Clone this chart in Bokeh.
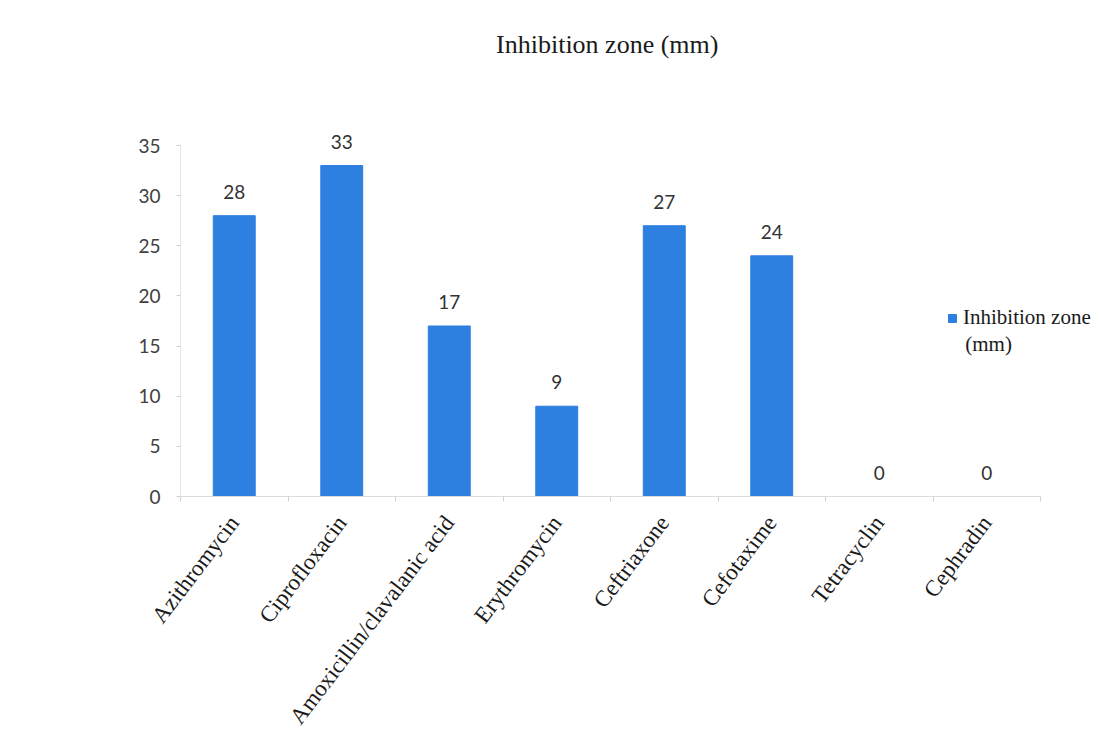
from bokeh.plotting import figure
from bokeh.models import (ColumnDataSource, Range1d, FixedTicker, LabelSet, Label,
                          Legend, LegendItem)
from bokeh.core.properties import value
from bokeh.embed import file_html
from bokeh.resources import INLINE

# Antibiotics tested and the measured inhibition zone diameters (mm)
antibiotics = ["Azithromycin", "Ciprofloxacin", "Amoxicillin/clavalanic acid",
               "Erythromycin", "Ceftriaxone", "Cefotaxime", "Tetracyclin", "Cephradin"]
zone_mm = [28, 33, 17, 9, 27, 24, 0, 0]
y_ticks = [0, 5, 10, 15, 20, 25, 30, 35]

BAR = "#2D7FE0"
SERIF = "Liberation Serif"
SANS = "Lato"

n = len(antibiotics)
centers = [i + 0.5 for i in range(n)]
source = ColumnDataSource(dict(x=centers, zone=zone_mm,
                               label=[str(v) for v in zone_mm]))

# The frame covers nearly the whole canvas so that the title, value labels and
# legend can sit in it; the axes are bounded to the data extent (0..8, 0..35).
AXIS_MAX = 35
FRAME_W, FRAME_H = 922, 486
x_end = n * FRAME_W / 860
y_end = AXIS_MAX * FRAME_H / 351
p = figure(width=1102, height=749, output_backend="svg", toolbar_location=None,
           x_range=Range1d(0, x_end), y_range=Range1d(0, y_end),
           min_border_left=180, min_border_right=0,
           min_border_top=10, min_border_bottom=253,
           outline_line_color=None, background_fill_color="white",
           border_fill_color="white")

title = Label(x=n / 2, y=43.6, text="Inhibition  zone (mm)",
              text_align="center", text_baseline="bottom",
              text_font=SERIF, text_font_size="26px", text_color="#1a1a1a")
p.add_layout(title)

bars = p.vbar(x="x", top="zone", width=0.39, bottom=0, source=source,
              fill_color=BAR, line_color=BAR)

labels = LabelSet(x="x", y="zone", text="label", source=source,
                  text_align="center", text_baseline="alphabetic",
                  y_offset=17, text_font=value(SANS), text_font_size=value("19px"),
                  text_color="#333333")
p.add_layout(labels)

# x axis: names at the bar centres, small ticks at the category boundaries
xa = p.xaxis[0]
xa.bounds = (0, n)
xa.ticker = FixedTicker(ticks=centers, minor_ticks=list(range(n + 1)))
xa.major_label_overrides = {c: name for c, name in zip(centers, antibiotics)}
xa.major_label_orientation = 0.92
xa.major_tick_out = 0
xa.major_tick_in = 0
xa.minor_tick_out = 5
xa.minor_tick_in = 0
xa.minor_tick_line_color = "#d0d0d0"
xa.axis_line_color = "#dcdcdc"
xa.major_label_text_font = SERIF
xa.major_label_text_font_size = "23px"
xa.major_label_text_color = "#1a1a1a"
xa.major_label_standoff = 17

ya = p.yaxis[0]
ya.bounds = (0, AXIS_MAX)
ya.ticker = FixedTicker(ticks=y_ticks)
ya.minor_tick_line_color = None
ya.major_tick_out = 4
ya.major_tick_in = 0
ya.major_tick_line_color = "#d0d0d0"
ya.axis_line_color = "#e6e6e6"
ya.major_label_text_font = SANS
ya.major_label_text_font_size = "19px"
ya.major_label_text_color = "#404040"
ya.major_label_standoff = 16

p.xgrid.visible = False
p.ygrid.visible = False

# legend entry; its unit wraps onto a second line beneath the series name
legend = Legend(items=[LegendItem(label="Inhibition zone", renderers=[bars])],
                location=(767, 166), background_fill_alpha=0,
                border_line_color=None, glyph_width=10, glyph_height=10,
                label_standoff=6, padding=4, margin=0,
                label_text_font=SERIF, label_text_font_size="21px",
                label_text_color="#1a1a1a")
p.add_layout(legend)

legend_unit = Label(x=7.3, y=15.25, text="(mm)", text_align="left",
                    text_baseline="middle", text_font=SERIF,
                    text_font_size="21px", text_color="#1a1a1a")
p.add_layout(legend_unit)

open("out.html", "w").write(file_html(p, INLINE))
